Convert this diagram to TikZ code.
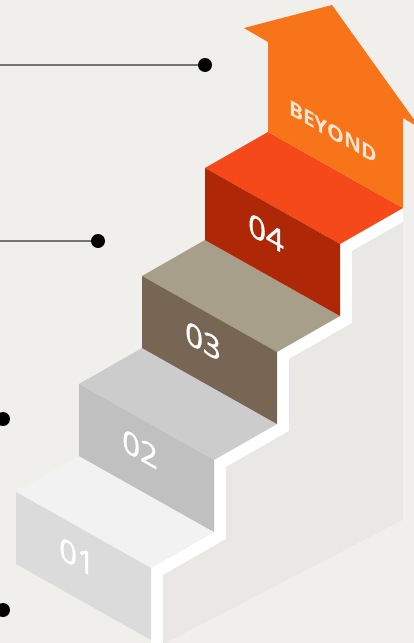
\documentclass[tikz,border=0pt]{standalone}
\usepackage{fontspec}
\setmainfont{Open Sans}
\newfontfamily\numfont[FakeBold=1.3]{Open Sans}
\newfontfamily\beyondfont{Open Sans Bold}
\usetikzlibrary{calc}
\definecolor{paper}{HTML}{F0EFEB}
\definecolor{sidegray}{HTML}{E9E8E5}
\definecolor{arroworange}{HTML}{F87419}
\definecolor{beyondtext}{HTML}{FDE6D2}
\definecolor{topA}{HTML}{F2F2F2}
\definecolor{frontA}{HTML}{DBDBDB}
\definecolor{topB}{HTML}{CCCCCC}
\definecolor{frontB}{HTML}{C0C0C0}
\definecolor{topC}{HTML}{A89F8B}
\definecolor{frontC}{HTML}{786654}
\definecolor{topD}{HTML}{F5491A}
\definecolor{frontD}{HTML}{AE2808}
\tikzset{stepnum/.style={text=white, inner sep=0pt, yslant=-0.563,
    font=\numfont\fontsize{31}{31}\selectfont},
  dot/.style={circle, fill=black, inner sep=0pt, minimum size=14pt},
  leader/.style={draw=black!55, line width=1.3pt}}

\begin{document}
\begin{tikzpicture}[x=1pt,y=-1pt]
  \fill[paper] (0,0) rectangle (414,643);
  \useasboundingbox (0,0) rectangle (414,643);

  % side of the stairs
  \fill[white] (151,643) -- (151,568) -- (214,532) -- (214,460) -- (277,424)
    -- (277,352) -- (340,316) -- (340,244) -- (403,208) -- (403,520) -- (166,643) -- cycle;
  \fill[sidegray] (163,643) -- (163,575) -- (226,539) -- (226,467) -- (289,431)
    -- (289,359) -- (352,323) -- (352,251) -- (403,222) -- (403,520) -- (166,643) -- cycle;

  % the steps
  \foreach \n/\tp/\fr in {1/topA/frontA, 2/topB/frontB, 3/topC/frontC, 4/topD/frontD} {
    \coordinate (a\n) at ({16+63*(\n-1)},{492-108*(\n-1)});
    \fill[\tp] (a\n) -- ++(135,76) -- ++(63,-36) -- ++(-135,-76) -- cycle;
    \fill[\fr] (a\n) -- ++(135,76) -- ++(0,72) -- ++(-135,-76) -- cycle;
    \node[stepnum] (num\n) at ($(a\n)+(61,65)$) {0\n};
  }

  % arrow
  \fill[arroworange] (268,132) -- (268,42) -- (244,28) -- (332,5) -- (420,128)
    -- (403,118) -- (403,208) -- cycle;
  \node[text=beyondtext, inner sep=0pt, yslant=-0.563,
    font=\beyondfont\fontsize{21}{21}\selectfont] (beyond) at (333,132) {BEYOND};

  % leaders
  \coordinate (l1) at (0,65);
  \coordinate (l2) at (0,241);
  \node[dot] (d1) at (205,65) {};
  \node[dot] (d2) at (98,241) {};
  \node[dot] (d3) at (3,419) {};
  \node[dot] (d4) at (3,610) {};
  \draw[leader] (l1) -- (d1);
  \draw[leader] (l2) -- (d2);
\end{tikzpicture}
\end{document}
